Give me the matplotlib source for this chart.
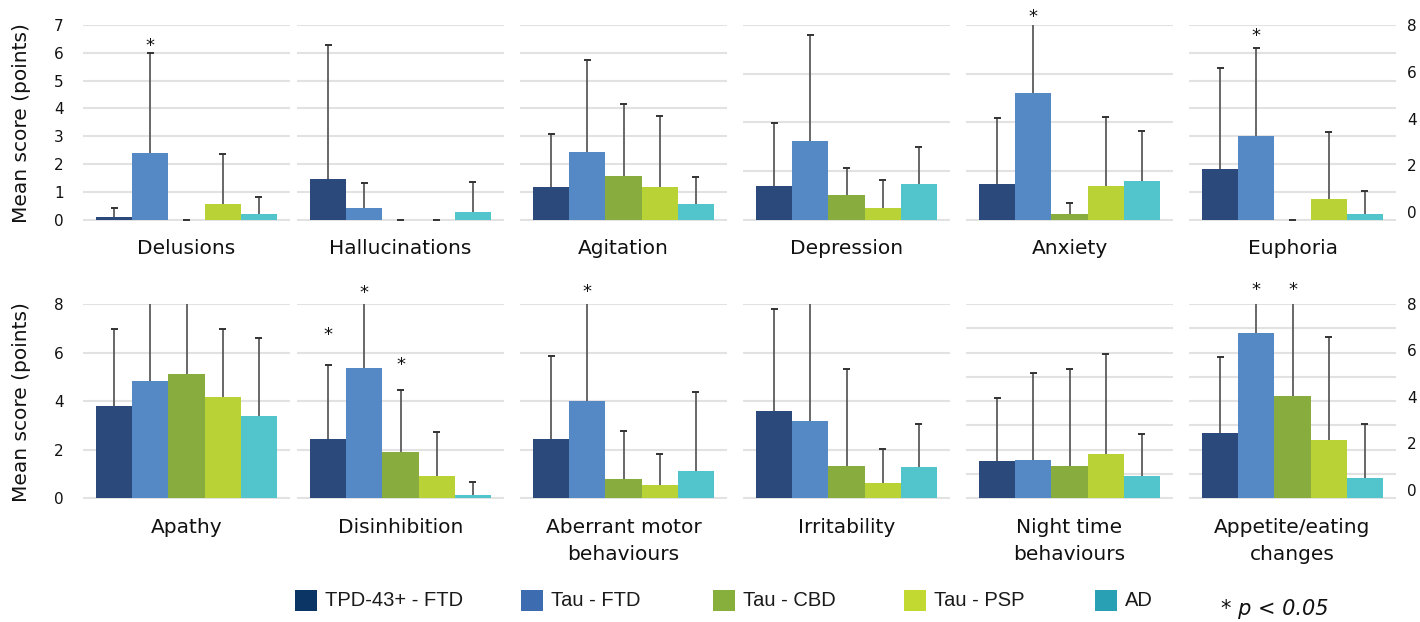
import matplotlib
matplotlib.use("Agg")
import matplotlib.pyplot as plt
from matplotlib import font_manager, transforms
from matplotlib.patches import Rectangle
import numpy as np

# ---- data -------------------------------------------------------------
groups = ["TPD-43+ - FTD", "Tau - FTD", "Tau - CBD", "Tau - PSP", "AD"]
bar_colors = ["#2B4A7B", "#5589C5", "#88AD3E", "#B9D235", "#52C4CB"]
legend_colors = ["#0B3565", "#3E6CB0", "#87AF3B", "#C2D931", "#2AA0B4"]

domains = ["Delusions", "Hallucinations", "Agitation", "Depression",
           "Anxiety", "Euphoria", "Apathy", "Disinhibition",
           "Aberrant motor\nbehaviours", "Irritability",
           "Night time\nbehaviours", "Appetite/eating\nchanges"]

# mean score per group (TPD-43+ FTD, Tau FTD, Tau CBD, Tau PSP, AD)
delusions_mean = [0.10, 2.40, 0.00, 0.56, 0.20]
hallucinations_mean = [1.46, 0.42, 0.00, 0.00, 0.29]
agitation_mean = [1.17, 2.42, 1.56, 1.17, 0.56]
depression_mean = [1.38, 3.22, 1.01, 0.48, 1.46]
anxiety_mean = [1.46, 5.22, 0.23, 1.38, 1.58]
euphoria_mean = [1.81, 2.99, 0.00, 0.74, 0.20]
apathy_mean = [3.82, 4.81, 5.10, 4.19, 3.37]
disinhibition_mean = [2.43, 5.38, 1.90, 0.91, 0.14]
aberrant_mean = [2.46, 4.01, 0.79, 0.54, 1.12]
irritability_mean = [3.61, 3.20, 1.32, 0.62, 1.28]
night_mean = [1.54, 1.58, 1.34, 1.83, 0.91]
appetite_mean = [2.67, 6.80, 4.20, 2.39, 0.85]

# standard deviation (drawn upward only)
delusions_sd = [0.30, 3.60, 0.00, 1.79, 0.60]
hallucinations_sd = [4.82, 0.89, 0.00, 0.00, 1.05]
agitation_sd = [1.90, 3.33, 2.60, 2.56, 0.96]
depression_sd = [2.60, 4.36, 1.12, 1.17, 1.52]
anxiety_sd = [2.70, 3.30, 0.44, 2.82, 2.07]
euphoria_sd = [3.64, 3.18, 0.00, 2.40, 0.82]
apathy_sd = [3.16, 3.50, 3.20, 2.78, 3.21]
disinhibition_sd = [3.06, 3.00, 2.57, 1.81, 0.52]
aberrant_sd = [3.38, 4.20, 1.99, 1.30, 3.25]
irritability_sd = [4.18, 4.90, 3.99, 1.42, 1.77]
night_sd = [2.58, 3.60, 4.00, 4.12, 1.74]
appetite_sd = [3.13, 2.00, 4.10, 4.26, 2.21]

means = [delusions_mean, hallucinations_mean, agitation_mean, depression_mean,
         anxiety_mean, euphoria_mean, apathy_mean, disinhibition_mean,
         aberrant_mean, irritability_mean, night_mean, appetite_mean]
sds = [delusions_sd, hallucinations_sd, agitation_sd, depression_sd,
       anxiety_sd, euphoria_sd, apathy_sd, disinhibition_sd,
       aberrant_sd, irritability_sd, night_sd, appetite_sd]

# y-axis range and gridline step of each panel
y_max = [7, 7, 7, 8, 8, 7, 8, 8, 8, 8, 8, 8]
grid_step = [1, 1, 1, 2, 2, 1, 2, 2, 2, 2, 1, 1]
right_ticks = [0, 2, 4, 6, 8]

# significance markers: (panel, group, height)
sig_panel = [0, 4, 5, 7, 7, 7, 8, 11, 11]
sig_group = [1, 1, 1, 0, 1, 2, 1, 1, 2]
sig_height = [6.40, 8.48, 6.75, 6.89, 8.62, 5.67, 8.64, 8.74, 8.74]

# ---- fonts ------------------------------------------------------------
available = {f.name for f in font_manager.fontManager.ttflist}


def pick(*names):
    for n in names:
        if n in available:
            return n
    return "DejaVu Sans"


legend_font = pick("Liberation Sans Narrow", "Liberation Sans")
legend_size = 16 if legend_font == "Liberation Sans Narrow" else 14.5
plt.rcParams["font.family"] = ["DejaVu Sans"]

# ---- layout (pixels) --------------------------------------------------
W, H = 1420, 622
fig = plt.figure(figsize=(W / 100, H / 100), dpi=100)
fig.patch.set_facecolor("white")

col_left = [83, 297, 520, 743, 966, 1189]
panel_w = 207
row_top = [25, 304]
row_bottom = [220.7, 499.3]
twin_bottom = [-0.36, -0.42]
label_first_baseline = 33.5
label_line_gap = 26.7
text_color = "#111111"
err_color = "#5C5C5C"

for k, name in enumerate(domains):
    r, c = divmod(k, 6)
    ax = fig.add_axes([col_left[c] / W, 1 - row_bottom[r] / H,
                       panel_w / W, (row_bottom[r] - row_top[r]) / H])
    ax.set_facecolor("none")
    x = np.arange(len(groups))
    m = np.asarray(means[k], dtype=float)
    s = np.asarray(sds[k], dtype=float)
    ax.bar(x, m, width=1.0, color=bar_colors, zorder=2, linewidth=0)
    ax.vlines(x, m, m + s, color=err_color, lw=1.3, zorder=3)
    ax.hlines(m + s, x - 0.1, x + 0.1, color="#333333", lw=1.4, zorder=3)
    ax.set_xlim(-0.865, 4.865)
    ax.set_ylim(-0.04, y_max[k])
    ax.set_yticks(np.arange(0, y_max[k] + 0.01, grid_step[k]))
    ax.yaxis.grid(True, color="#E2E2E2", lw=1.5)
    ax.set_axisbelow(True)
    ax.set_xticks([])
    for sp in ax.spines.values():
        sp.set_visible(False)
    if c == 0:
        ax.tick_params(axis="y", length=0, pad=14, labelsize=11,
                       labelcolor=text_color)
    else:
        ax.tick_params(axis="y", length=0, labelleft=False)
    if c == 5:
        ax2 = ax.twinx()
        ax2.set_ylim(twin_bottom[r], 8)
        ax2.set_yticks(right_ticks)
        ax2.tick_params(axis="y", length=0, pad=8, labelsize=11,
                        labelcolor=text_color)
        for sp in ax2.spines.values():
            sp.set_visible(False)

    # significance asterisks
    star_tr = transforms.offset_copy(ax.transData, fig=fig, y=-4, units="dots")
    for p, g, h in zip(sig_panel, sig_group, sig_height):
        if p == k:
            ax.text(g, h, "*", transform=star_tr, ha="center",
                    va="center", fontsize=13, color=text_color,
                    clip_on=False)

    # category label, one line at a time
    for i, line in enumerate(name.split("\n")):
        base = row_bottom[r] + label_first_baseline + i * label_line_gap
        fig.text((col_left[c] + panel_w / 2) / W, 1 - base / H, line,
                 ha="center", va="baseline", fontsize=14.5,
                 color=text_color)

# y-axis titles
for r in range(2):
    fig.text(22 / W, 1 - ((row_top[r] + row_bottom[r]) / 2) / H,
             "Mean score (points)", rotation=90, ha="center", va="center",
             fontsize=14.5, color=text_color)

# legend
legend_x = [295, 521, 713, 904, 1095]
for lx, lab, col in zip(legend_x, groups, legend_colors):
    fig.add_artist(Rectangle((lx / W, 1 - 611 / H), 22 / W, 21 / H,
                             transform=fig.transFigure, color=col, lw=0))
    fig.text((lx + 30) / W, 1 - 600 / H, lab, ha="left", va="center",
             fontsize=legend_size, family=legend_font, color="#1a1a1a")

fig.text(1221 / W, 1 - 615 / H, "* p < 0.05", ha="left", va="baseline",
         fontsize=15, style="italic", color="#111111")

fig.savefig("out.png", dpi=100, facecolor="white")
